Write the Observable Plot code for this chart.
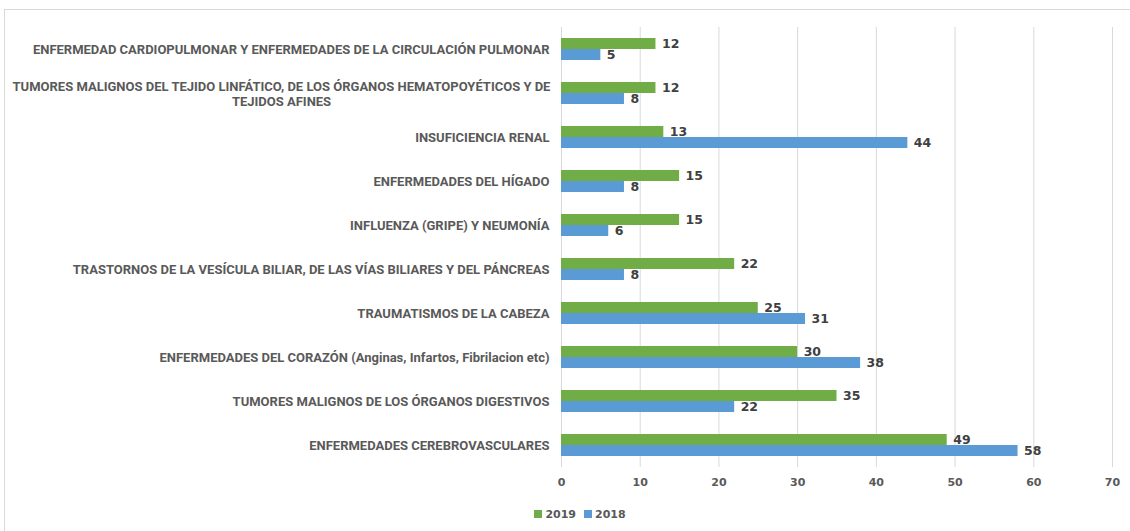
<!DOCTYPE html>
<html>
<head>
<meta charset="utf-8">
<script src="https://cdn.jsdelivr.net/npm/d3@7"></script>
<script src="https://cdn.jsdelivr.net/npm/@observablehq/plot@0.6"></script>
<style>
  html, body { margin: 0; padding: 0; background: #fff; width: 1130px; height: 531px; overflow: hidden; }
  #frame { position: absolute; left: 4px; top: 9px; width: 1140px; height: 540px; border: 1.5px solid #d9d9d9; box-sizing: border-box; }
  #chart { position: absolute; left: 0; top: 0; }
  #legend { position: absolute; top: 508px; left: 0; width: 1160px; display: flex; justify-content: center; gap: 8px;
    font-family: "DejaVu Sans", sans-serif; font-weight: bold; font-size: 11px; color: #595959; }
  #legend span.sw { display: inline-block; width: 8px; height: 8px; margin-right: 3px; }
  .cat text { font-family: "Roboto", sans-serif; font-weight: bold; }
</style>
</head>
<body>
<div id="frame"></div>
<div id="chart"></div>
<div id="legend"></div>
<script>
const categories = [
  "ENFERMEDAD CARDIOPULMONAR Y ENFERMEDADES DE LA CIRCULACIÓN PULMONAR",
  "TUMORES MALIGNOS DEL TEJIDO LINFÁTICO, DE LOS ÓRGANOS HEMATOPOYÉTICOS Y DE TEJIDOS AFINES",
  "INSUFICIENCIA RENAL",
  "ENFERMEDADES DEL HÍGADO",
  "INFLUENZA (GRIPE) Y NEUMONÍA",
  "TRASTORNOS DE LA VESÍCULA BILIAR, DE LAS VÍAS BILIARES Y DEL PÁNCREAS",
  "TRAUMATISMOS DE LA CABEZA",
  "ENFERMEDADES DEL CORAZÓN (Anginas, Infartos, Fibrilacion etc)",
  "TUMORES MALIGNOS DE LOS ÓRGANOS DIGESTIVOS",
  "ENFERMEDADES CEREBROVASCULARES"
];
const categoryLabels = [
  "ENFERMEDAD CARDIOPULMONAR Y ENFERMEDADES DE LA CIRCULACIÓN PULMONAR",
  "TUMORES MALIGNOS DEL TEJIDO LINFÁTICO, DE LOS ÓRGANOS HEMATOPOYÉTICOS Y DE\nTEJIDOS AFINES",
  "INSUFICIENCIA RENAL",
  "ENFERMEDADES DEL HÍGADO",
  "INFLUENZA (GRIPE) Y NEUMONÍA",
  "TRASTORNOS DE LA VESÍCULA BILIAR, DE LAS VÍAS BILIARES Y DEL PÁNCREAS",
  "TRAUMATISMOS DE LA CABEZA",
  "ENFERMEDADES DEL CORAZÓN (Anginas, Infartos, Fibrilacion etc)",
  "TUMORES MALIGNOS DE LOS ÓRGANOS DIGESTIVOS",
  "ENFERMEDADES CEREBROVASCULARES"
];
const values2019 = [12, 12, 13, 15, 15, 22, 25, 30, 35, 49];
const values2018 = [5, 8, 44, 8, 6, 8, 31, 38, 22, 58];
const years = ["2019", "2018"];
const yearColors = ["#70AD47", "#5B9BD5"];
const xTicks = [0, 10, 20, 30, 40, 50, 60, 70];

const data = [];
categories.forEach((c, i) => {
  data.push({category: c, year: "2019", value: values2019[i]});
  data.push({category: c, year: "2018", value: values2018[i]});
});
const labelOf = new Map(categories.map((c, i) => [c, categoryLabels[i]]));
const wrapped = categories.filter((c, i) => categoryLabels[i].includes("\n"));
const single = categories.filter((c, i) => !categoryLabels[i].includes("\n"));

const chart = Plot.plot({
  width: 1130,
  height: 500,
  marginLeft: 561,
  marginRight: 18,
  marginTop: 25,
  marginBottom: 31,
  style: {fontFamily: "DejaVu Sans, sans-serif", fontSize: "11px", color: "#595959", background: "transparent"},
  x: {domain: [0, 70], axis: null},
  y: {domain: years, axis: null, paddingInner: 0, paddingOuter: 0.95},
  fy: {domain: categories, padding: 0, label: null},
  color: {domain: years, range: yearColors},
  marks: [
    Plot.gridX(xTicks, {stroke: "#d9d9d9", strokeOpacity: 1, strokeWidth: 1}),
    Plot.axisFy({ticks: single, anchor: "left", tickSize: 0, tickPadding: 12, tickFormat: d => labelOf.get(d),
      fontSize: 13, fill: "#595959", className: "cat", label: null}),
    Plot.axisFy({ticks: wrapped, anchor: "left", tickSize: 0, tickPadding: 0, dx: -280, textAnchor: "middle",
      lineHeight: 1.2, tickFormat: d => labelOf.get(d), fontSize: 13, fill: "#595959", className: "cat", label: null}),
    Plot.axisX({ticks: xTicks, tickSize: 0, tickPadding: 11, fontSize: 11, fontWeight: "bold", fill: "#595959", label: null}),
    Plot.barX(data, {x: "value", y: "year", fy: "category", fill: "year"}),
    Plot.text(data, {x: "value", y: "year", fy: "category", text: d => String(d.value), dx: 6,
      textAnchor: "start", fontSize: 12.5, fontWeight: "bold", fill: "#404040"})
  ]
});
document.getElementById("chart").appendChild(chart);

const legend = document.getElementById("legend");
years.forEach((y, i) => {
  const item = document.createElement("div");
  item.innerHTML = `<span class="sw" style="background:${yearColors[i]}"></span>${y}`;
  legend.appendChild(item);
});
</script>
</body>
</html>
